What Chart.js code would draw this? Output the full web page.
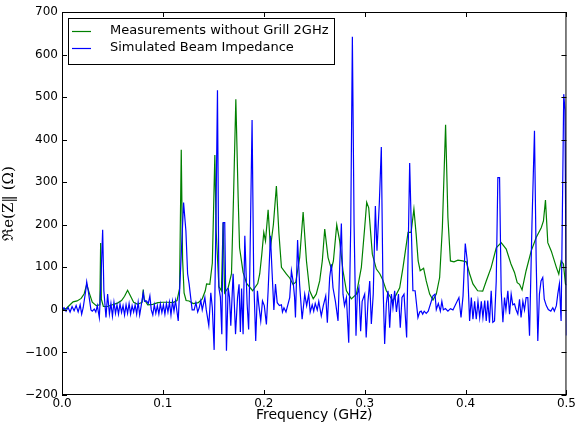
<!DOCTYPE html>
<html>
<head>
<meta charset="utf-8">
<script src="https://cdn.jsdelivr.net/npm/chart.js@4.4.1/dist/chart.umd.min.js"></script>
<style>
  html, body { margin: 0; padding: 0; background: #fff; }
  #wrap { width: 578px; height: 425px; }
</style>
</head>
<body>
<div id="wrap"><canvas id="impChart" width="578" height="425"></canvas></div>
<script>
// measured impedance (green), frequency in GHz / Ohm
const greenFreq = [0.000, 0.004, 0.008, 0.011, 0.015, 0.019, 0.022, 0.0245, 0.027, 0.030, 0.034, 0.0375, 0.0383, 0.039, 0.041, 0.045, 0.050, 0.055, 0.059, 0.062,
  0.065, 0.068, 0.071, 0.075, 0.0795, 0.0805, 0.0815, 0.085, 0.090, 0.095, 0.100, 0.105, 0.110, 0.114, 0.1165, 0.1182, 0.1195, 0.121, 0.123, 0.126,
  0.130, 0.135, 0.139, 0.142, 0.1433, 0.1465, 0.149, 0.1515, 0.1528, 0.1555, 0.158, 0.1597, 0.1612, 0.1647, 0.168, 0.170, 0.1723, 0.1746, 0.176, 0.1795,
  0.183, 0.189, 0.194, 0.196, 0.198, 0.200, 0.2017, 0.2043, 0.2066, 0.2095, 0.2125, 0.215, 0.2175, 0.2225, 0.2257, 0.229, 0.2317, 0.2356, 0.239, 0.2423,
  0.2455, 0.249, 0.252, 0.2554, 0.258, 0.2604, 0.2637, 0.267, 0.269, 0.2723, 0.2752, 0.2785, 0.2819, 0.2868, 0.2918, 0.2967, 0.300, 0.302, 0.304, 0.3076,
  0.3116, 0.315, 0.318, 0.3215, 0.328, 0.3347, 0.338, 0.343, 0.346, 0.3488, 0.351, 0.353, 0.355, 0.3584, 0.361, 0.3644, 0.3677, 0.371, 0.3743, 0.377,
  0.3802, 0.3825, 0.385, 0.3885, 0.3924, 0.397, 0.4007, 0.404, 0.4073, 0.412, 0.417, 0.4205, 0.4254, 0.4304, 0.4353, 0.4403, 0.445, 0.4485, 0.4512, 0.4535,
  0.456, 0.460, 0.465, 0.470, 0.475, 0.4772, 0.4792, 0.4815, 0.485, 0.490, 0.4924, 0.4947, 0.497, 0.499, 0.500];
const greenImp = [0, 3, 12, 19, 21, 27, 38, 60, 40, 18, 10, 12, 157, 25, 8, 8, 12, 16, 22, 32,
  46, 32, 18, 13, 18, 48, 25, 12, 13, 17, 18, 18, 17, 22, 50, 376, 120, 40, 22, 21,
  15, 17, 26, 45, 61, 60, 110, 364, 186, 55, 45, 205, 40, 52, 85, 264, 495, 264, 146, 88,
  62, 45, 62, 85, 130, 182, 162, 235, 146, 200, 291, 180, 100, 84, 75, 60, 65, 123, 230, 115,
  45, 26, 37, 68, 115, 190, 123, 96, 115, 200, 162, 92, 45, 26, 37, 100, 193, 253, 240, 131,
  96, 85, 70, 45, 21, 52, 100, 182, 182, 237, 178, 115, 92, 98, 68, 37, 23, 37, 76, 193,
  435, 217, 115, 113, 117, 115, 113, 85, 61, 45, 44, 68, 100, 146, 158, 143, 108, 88, 64, 60,
  47, 92, 138, 170, 193, 209, 258, 158, 138, 100, 84, 115, 108, 61, 58];

// simulated beam impedance (blue)
const blueFreq = [0.000, 0.002, 0.004, 0.006, 0.008, 0.010, 0.012, 0.014, 0.016, 0.018, 0.0195, 0.021, 0.0235, 0.0245, 0.026, 0.0275, 0.0287, 0.030, 0.032, 0.0335,
  0.035, 0.037, 0.0385, 0.0403, 0.0415, 0.0436, 0.0452, 0.047, 0.0485, 0.050, 0.0515, 0.053, 0.0545, 0.056, 0.0575, 0.059, 0.0605, 0.062, 0.0635, 0.065,
  0.0665, 0.068, 0.0695, 0.071, 0.0725, 0.074, 0.0755, 0.077, 0.0785, 0.0805, 0.0818, 0.0838, 0.0855, 0.0871, 0.0885, 0.090, 0.0915, 0.093, 0.0945, 0.096,
  0.0975, 0.099, 0.1005, 0.102, 0.1035, 0.105, 0.1065, 0.108, 0.1095, 0.111, 0.1125, 0.1152, 0.118, 0.1205, 0.1228, 0.1245, 0.126, 0.1275, 0.129, 0.131,
  0.1327, 0.1345, 0.136, 0.1376, 0.139, 0.1416, 0.143, 0.1455, 0.1475, 0.149, 0.1508, 0.1525, 0.1541, 0.1555, 0.157, 0.1584, 0.1597, 0.1613, 0.163, 0.1647,
  0.166, 0.1673, 0.1696, 0.172, 0.174, 0.1755, 0.1768, 0.178, 0.1795, 0.1812, 0.1835, 0.185, 0.1861, 0.1884, 0.190, 0.192, 0.1937, 0.195, 0.197, 0.1987,
  0.2005, 0.2026, 0.2043, 0.2066, 0.2083, 0.210, 0.2116, 0.2133, 0.2155, 0.2175, 0.2185, 0.220, 0.222, 0.2257, 0.2274, 0.229, 0.2305, 0.2314, 0.2335, 0.2355,
  0.238, 0.2406, 0.2425, 0.2445, 0.246, 0.248, 0.2495, 0.251, 0.253, 0.2545, 0.257, 0.259, 0.2614, 0.263, 0.2653, 0.267, 0.2686, 0.271, 0.2736, 0.2752,
  0.2769, 0.2785, 0.280, 0.2819, 0.2842, 0.2862, 0.2878, 0.2895, 0.2914, 0.2927, 0.2943, 0.296, 0.2975, 0.300, 0.3015, 0.3033, 0.305, 0.3066, 0.3085, 0.3106,
  0.3122, 0.3145, 0.3165, 0.318, 0.3198, 0.3215, 0.3231, 0.3248, 0.3265, 0.328, 0.3297, 0.3315, 0.3335, 0.3353, 0.337, 0.339, 0.3416, 0.3446, 0.3478, 0.350,
  0.3528, 0.3545, 0.356, 0.3575, 0.359, 0.361, 0.363, 0.3677, 0.3697, 0.371, 0.373, 0.375, 0.3765, 0.378, 0.380, 0.3825, 0.385, 0.3875, 0.3934, 0.3955,
  0.3975, 0.3997, 0.4017, 0.404, 0.4057, 0.4073, 0.409, 0.4106, 0.4123, 0.414, 0.4156, 0.4172, 0.419, 0.4205, 0.422, 0.4237, 0.4254, 0.427, 0.4287, 0.4304,
  0.432, 0.4337, 0.4353, 0.437, 0.4386, 0.440, 0.4419, 0.4436, 0.4452, 0.4468, 0.4485, 0.450, 0.4518, 0.4535, 0.455, 0.4568, 0.4584, 0.460, 0.4617, 0.4634,
  0.4658, 0.4683, 0.470, 0.4716, 0.4732, 0.4748, 0.4765, 0.478, 0.480, 0.482, 0.4845, 0.4865, 0.488, 0.490, 0.4914, 0.493, 0.4947, 0.4963, 0.4973, 0.4985,
  0.500];
const blueImp = [0, 5, -3, 6, -5, 8, -2, 10, -5, 12, -10, 5, 45, 66, 45, 20, 0, -3, 2, -5,
  10, -18, 60, 188, 45, -18, 37, -10, 15, -15, 18, -8, 12, -10, 14, -6, 10, -12, 12, -8,
  15, -10, 10, -5, 12, -10, 18, -12, 10, 40, 20, 21, 15, 33, 0, -12, 12, -8, 10, -10,
  14, -6, 12, -10, 15, -5, 18, -12, 20, -3, 22, -26, 120, 252, 186, 85, 61, 30, 0, 0,
  17, -5, 5, 22, 0, 29, 0, -37, 40, 5, -94, 200, 516, 52, 30, -57, 205, 205, -96, 52,
  30, -37, 85, -57, 29, 60, -52, 50, -57, 174, 14, -46, 85, 446, 76, -73, 45, 13, -26, 21,
  10, -34, 45, 174, 85, 0, 61, 17, 10, 12, -5, 5, -5, 29, 92, 68, 30, -18, 164, 60,
  -22, 37, 10, 37, -5, 12, -3, 15, 0, 20, -14, 10, 33, -30, 76, 107, 52, 20, -26, 100,
  203, 37, 10, 29, -77, 200, 642, 200, -61, 37, 52, -50, 20, 37, -65, 20, 68, -33, 37, 244,
  139, 250, 383, 76, -80, 15, 45, -42, 37, 5, 45, -5, 37, -42, 29, 37, -65, 345, 45, 45,
  -18, -5, -3, -10, -3, -8, -3, 33, 37, 1, 15, -3, 20, 0, 3, -3, 3, 0, 29, -18,
  33, 156, 115, -26, 29, -22, 20, -22, 20, -18, 20, -18, 22, -26, 22, -30, 45, -29, -26, 68,
  311, 311, 45, -29, 29, 0, 45, -10, 37, 12, 14, 1, -10, 25, -18, 20, 0, 29, 29, -61,
  200, 421, 115, -73, 37, 68, 76, 25, 10, 1, -3, 5, -3, 10, 37, 61, -26, 300, 507, 470,
  -60];

const xTicks = [0, 0.1, 0.2, 0.3, 0.4, 0.5];
const xTickLabels = ['0.0', '0.1', '0.2', '0.3', '0.4', '0.5'];
const yTicks = [-200, -100, 0, 100, 200, 300, 400, 500, 600, 700];
const yTickLabels = ['\u2212200', '\u2212100', '0', '100', '200', '300', '400', '500', '600', '700'];
const seriesNames = ['Measurements without Grill 2GHz', 'Simulated Beam Impedance'];
const seriesColors = ['#008000', '#0000ff'];

const toPoints = (fs, vs) => fs.map((f, i) => ({ x: f, y: vs[i] }));

// matplotlib-ish frame with inward ticks + boxed legend
const frameAndLegend = {
  id: 'frameAndLegend',
  afterDatasetsDraw(chart) {
    const { ctx, chartArea: a, scales: { x, y } } = chart;
    ctx.save();
    ctx.strokeStyle = '#000';
    ctx.lineWidth = 1;
    ctx.strokeRect(a.left + 0.5, a.top + 0.5, a.right - a.left - 1, a.bottom - a.top - 1);

    ctx.beginPath();
    xTicks.forEach(v => {
      const px = Math.round(x.getPixelForValue(v)) + 0.5;
      ctx.moveTo(px, a.bottom); ctx.lineTo(px, a.bottom - 5);
      ctx.moveTo(px, a.top); ctx.lineTo(px, a.top + 5);
    });
    yTicks.forEach(v => {
      const py = Math.round(y.getPixelForValue(v)) + 0.5;
      ctx.moveTo(a.left, py); ctx.lineTo(a.left + 5, py);
      ctx.moveTo(a.right, py); ctx.lineTo(a.right - 5, py);
    });
    ctx.stroke();

    // legend box
    const bx = a.left + 6, by = a.top + 6, bw = 266, bh = 46;
    ctx.fillStyle = '#fff';
    ctx.fillRect(bx, by, bw, bh);
    ctx.strokeRect(bx + 0.5, by + 0.5, bw, bh);
    ctx.font = '13px "DejaVu Sans"';
    ctx.textBaseline = 'middle';
    seriesNames.forEach((name, i) => {
      const ly = by + 13 + i * 17;
      ctx.strokeStyle = seriesColors[i];
      ctx.lineWidth = 1.2;
      ctx.beginPath();
      ctx.moveTo(bx + 4, ly + 0.5); ctx.lineTo(bx + 23, ly + 0.5);
      ctx.stroke();
      ctx.fillStyle = '#000';
      ctx.fillText(name, bx + 42, ly);
    });
    ctx.restore();
  }
};

new Chart(document.getElementById('impChart'), {
  type: 'line',
  data: {
    datasets: [
      { label: seriesNames[0], data: toPoints(greenFreq, greenImp), borderColor: seriesColors[0], borderWidth: 1.2, order: 1 },
      { label: seriesNames[1], data: toPoints(blueFreq, blueImp), borderColor: seriesColors[1], borderWidth: 1.2, order: 0 }
    ]
  },
  options: {
    responsive: false, animation: false, devicePixelRatio: 1,
    layout: { padding: { top: 12, right: 10, left: 0, bottom: 0 } },
    elements: { point: { radius: 0 }, line: { tension: 0, fill: false } },
    plugins: { legend: { display: false }, tooltip: { enabled: false } },
    scales: {
      x: {
        type: 'linear', min: 0, max: 0.5,
        grid: { display: false, drawTicks: false }, border: { display: false },
        afterBuildTicks: s => { s.ticks = xTicks.map(v => ({ value: v })); },
        afterFit: s => { s.height = 30; },
        ticks: { padding: 2, color: '#000', font: { family: 'DejaVu Sans', size: 12 }, maxRotation: 0,
          callback: (v, i) => xTickLabels[i] },
        title: { display: true, text: 'Frequency (GHz)', color: '#000', font: { family: 'DejaVu Sans', size: 14 }, padding: { top: 0, bottom: 1 } }
      },
      y: {
        type: 'linear', min: -200, max: 700,
        grid: { display: false, drawTicks: false }, border: { display: false },
        afterBuildTicks: s => { s.ticks = yTicks.map(v => ({ value: v })); },
        afterFit: s => { s.width = 62; },
        ticks: { padding: 4, color: '#000', font: { family: 'DejaVu Sans', size: 12 },
          callback: (v, i) => yTickLabels[i] },
        title: { display: true, text: '\u211Ce(Z\u2016 (\u03A9)', color: '#000', font: { family: 'DejaVu Serif', size: 15 }, padding: { top: 0, bottom: 6 } }
      }
    }
  },
  plugins: [frameAndLegend]
});
</script>
</body>
</html>
